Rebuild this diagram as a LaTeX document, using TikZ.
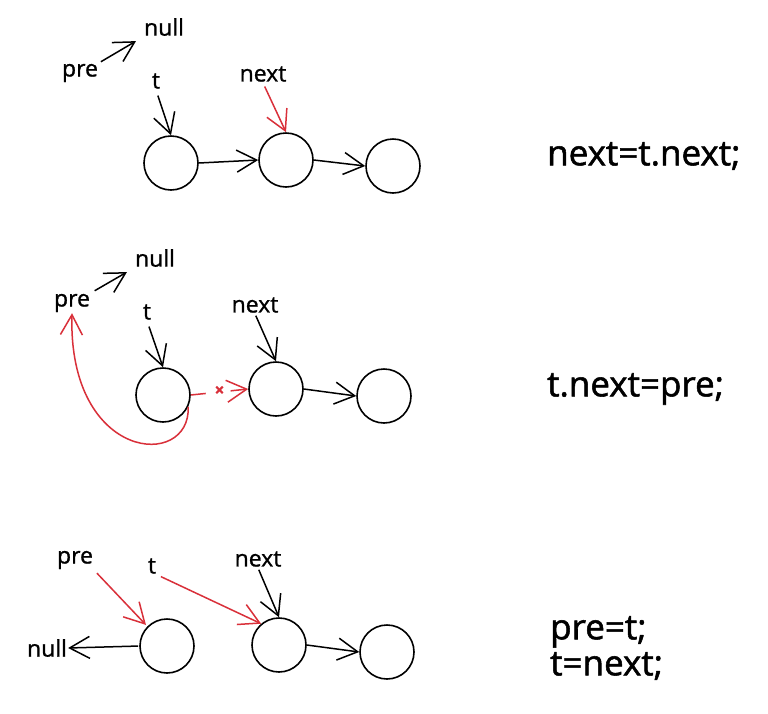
\documentclass[tikz,border=0pt]{standalone}
\usepackage{fontspec}
\setmainfont{Open Sans}[FakeBold=1]
\newfontfamily\codefont{Open Sans}[FakeBold=1.5]
\usetikzlibrary{arrows.meta}
\definecolor{sred}{HTML}{D9303A}
\tikzset{
  lbl/.style={font=\fontsize{23}{26}\selectfont, inner sep=1pt},
  code/.style={font=\codefont\fontsize{35}{36}\selectfont, inner sep=0pt, anchor=west, align=left},
  nd/.style={circle, draw, line width=1.6pt, minimum size=54pt, inner sep=0pt},
  arr/.style={line width=1.5pt, -{Straight Barb[length=20pt,width=22pt,line width=1.5pt]}},
  rarr/.style={arr, draw=sred},
}
\begin{document}
\begin{tikzpicture}[x=1pt,y=-1pt]
\useasboundingbox[fill=white] (0,0) rectangle (768,713);

% ---------- panel 1 ----------
\node[lbl] (null1) at (164,27) {null};
\node[lbl] (pre1) at (80,73) {pre};
\node[lbl] (t1) at (156,81) {t};
\node[lbl] (next1) at (263,74) {next};
\node[nd] (a1) at (171,163) {};
\node[nd] (b1) at (286,160) {};
\node[nd] (c1) at (393,166) {};
\draw[arr, shorten <=2pt, shorten >=8pt] (pre1.north east) -- (null1.south west);
\draw[arr, shorten <=6pt] (t1.south) -- (a1.north);
\draw[rarr, shorten <=4pt] (next1.south) -- (b1.north);
\draw[arr] (a1.east) -- (b1.west);
\draw[arr] (b1.east) -- (c1.west);
\node[code] (code1) at (547,156) {next=t.next;};

% ---------- panel 2 ----------
\node[lbl] (null2) at (155,258) {null};
\node[lbl] (pre2) at (72,303) {pre};
\node[lbl] (t2) at (147,312) {t};
\node[lbl] (next2) at (255,305) {next};
\node[nd] (a2) at (163,395) {};
\node[nd] (b2) at (276,389) {};
\node[nd] (c2) at (384,396) {};
\draw[arr, shorten <=4pt, shorten >=8pt] (pre2.north east) -- (null2.south west);
\draw[arr, shorten <=6pt] (t2.south) -- (a2.north);
\draw[arr, shorten <=2pt] (next2.south) -- (b2.north);
\draw[rarr, dash pattern=on 15pt off 25pt on 20pt] (a2.east) -- node[text=sred, font=\fontsize{17}{17}\selectfont\bfseries, yshift=1pt] (cross) {×} (b2.west);
\draw[arr] (b2.east) -- (c2.west);
\draw[rarr] (a2.-25) .. controls (191,470) and (68,462) .. (pre2.south);
\node[code] (code2) at (547,389) {t.next=pre;};

% ---------- panel 3 ----------
\node[lbl] (pre3) at (75,560) {pre};
\node[lbl] (t3) at (152,566) {t};
\node[lbl] (next3) at (258,559) {next};
\node[lbl] (null3) at (47,648) {null};
\node[nd] (a3) at (167,646) {};
\node[nd] (b3) at (279,645) {};
\node[nd] (c3) at (387,652) {};
\draw[rarr, shorten <=4pt, shorten >=2pt] (pre3.south east) -- (a3.north west);
\draw[rarr, shorten <=4pt, shorten >=0pt] (t3.south east) -- (b3.130);
\draw[arr, shorten <=2pt] (next3.south) -- (b3.north);
\draw[arr, shorten <=1pt] (a3.west) -- (null3.east);
\draw[arr] (b3.east) -- (c3.west);
\node[code] (code3) at (550,648) {pre=t;\\t=next;};
\end{tikzpicture}
\end{document}
